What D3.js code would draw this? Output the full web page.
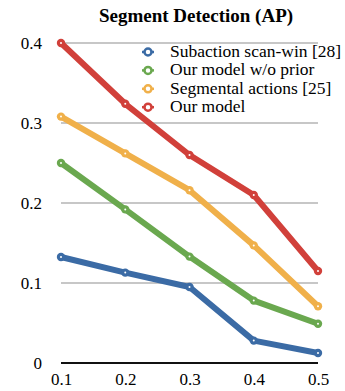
<!DOCTYPE html>
<html>
<head>
<meta charset="utf-8">
<script src="https://cdn.jsdelivr.net/npm/d3@7"></script>
<style>
  body { margin: 0; background: #fff; }
  svg text { font-family: "Liberation Serif", "Times New Roman", serif; }
</style>
</head>
<body>
<script>
// Data
var thresholds = [0.1, 0.2, 0.3, 0.4, 0.5];
var yTicks = [0, 0.1, 0.2, 0.3, 0.4];
var seriesNames = ["Subaction scan-win [28]", "Our model w/o prior", "Segmental actions [25]", "Our model"];
var seriesColors = ["#3b6ba5", "#6aa84f", "#f0b04a", "#d1403a"];
var subactionScan = [0.1325, 0.113, 0.095, 0.028, 0.0125];
var modelNoPrior = [0.250, 0.192, 0.133, 0.078, 0.049];
var segmentalActions = [0.308, 0.262, 0.216, 0.147, 0.071];
var ourModel = [0.400, 0.324, 0.260, 0.210, 0.115];
var allSeries = [subactionScan, modelNoPrior, segmentalActions, ourModel];

var w = 345, h = 391;
var serif = "'Liberation Serif', 'Times New Roman', serif";

var x = d3.scaleLinear().domain([0.1, 0.5]).range([61, 318]);
var y = d3.scaleLinear().domain([0, 0.4]).range([363, 43]);

var svg = d3.select("body").append("svg")
    .attr("width", w)
    .attr("height", h);

// Title
svg.append("text")
    .attr("x", 196)
    .attr("y", 22)
    .attr("text-anchor", "middle")
    .attr("font-family", serif)
    .attr("font-size", 19)
    .attr("font-weight", "bold")
    .text("Segment Detection (AP)");

// Gridlines
svg.selectAll("line.grid")
    .data(yTicks.filter(function(d) { return d > 0; }))
    .enter()
    .append("line")
    .attr("class", "grid")
    .attr("x1", x(0.1))
    .attr("x2", x(0.5))
    .attr("y1", function(d) { return y(d); })
    .attr("y2", function(d) { return y(d); })
    .attr("stroke", "#b4b4b4")
    .attr("stroke-width", 1.5);

// Axes
var yAxis = d3.axisLeft(y).tickValues(yTicks).tickSize(0).tickPadding(0)
    .tickFormat(function(d) { return d === 0 ? "0" : d3.format(".1f")(d); });
var gy = svg.append("g")
    .attr("transform", "translate(42,0)")
    .call(yAxis);
gy.select(".domain").remove();
gy.attr("font-family", serif).attr("font-size", 17);
gy.selectAll("text").attr("fill", "#000");

var xAxis = d3.axisBottom(x).tickValues(thresholds).tickSize(0).tickPadding(0)
    .tickFormat(d3.format(".1f"));
var gx = svg.append("g")
    .attr("transform", "translate(0,373)")
    .call(xAxis);
gx.select(".domain").remove();
gx.attr("font-family", serif).attr("font-size", 17);
gx.selectAll("text").attr("fill", "#000");

// Zero line
svg.append("line")
    .attr("x1", x(0.1))
    .attr("x2", x(0.5))
    .attr("y1", y(0))
    .attr("y2", y(0))
    .attr("stroke", "#111")
    .attr("stroke-width", 2);

// Lines
var line = d3.line()
    .x(function(d, i) { return x(thresholds[i]); })
    .y(function(d) { return y(d); });

allSeries.forEach(function(s, k) {
    svg.append("path")
        .datum(s)
        .attr("d", line)
        .attr("fill", "none")
        .attr("stroke", seriesColors[k])
        .attr("stroke-width", 6)
        .attr("stroke-linejoin", "round");

    svg.selectAll("circle.m" + k)
        .data(s)
        .enter()
        .append("circle")
        .attr("class", "m" + k)
        .attr("cx", function(d, i) { return x(thresholds[i]); })
        .attr("cy", function(d) { return y(d); })
        .attr("r", 4.2)
        .attr("fill", seriesColors[k]);

    svg.selectAll("circle.c" + k)
        .data(s)
        .enter()
        .append("circle")
        .attr("class", "c" + k)
        .attr("cx", function(d, i) { return x(thresholds[i]); })
        .attr("cy", function(d) { return y(d); })
        .attr("r", 1)
        .attr("fill", "#fff");
});

// Legend
var legend = svg.selectAll("g.legend")
    .data(seriesNames)
    .enter()
    .append("g")
    .attr("class", "legend")
    .attr("transform", function(d, i) { return "translate(148," + (52 + i * 18.4) + ")"; });

legend.append("line")
    .attr("x1", -6).attr("x2", 6)
    .attr("stroke", function(d, i) { return seriesColors[i]; })
    .attr("stroke-width", 2.5);

legend.append("circle")
    .attr("r", 3.5)
    .attr("fill", "#fff")
    .attr("stroke", function(d, i) { return seriesColors[i]; })
    .attr("stroke-width", 2.5);

legend.append("text")
    .attr("x", 22)
    .attr("y", 5)
    .attr("font-family", serif)
    .attr("font-size", 17.5)
    .text(function(d) { return d; });
</script>
</body>
</html>
